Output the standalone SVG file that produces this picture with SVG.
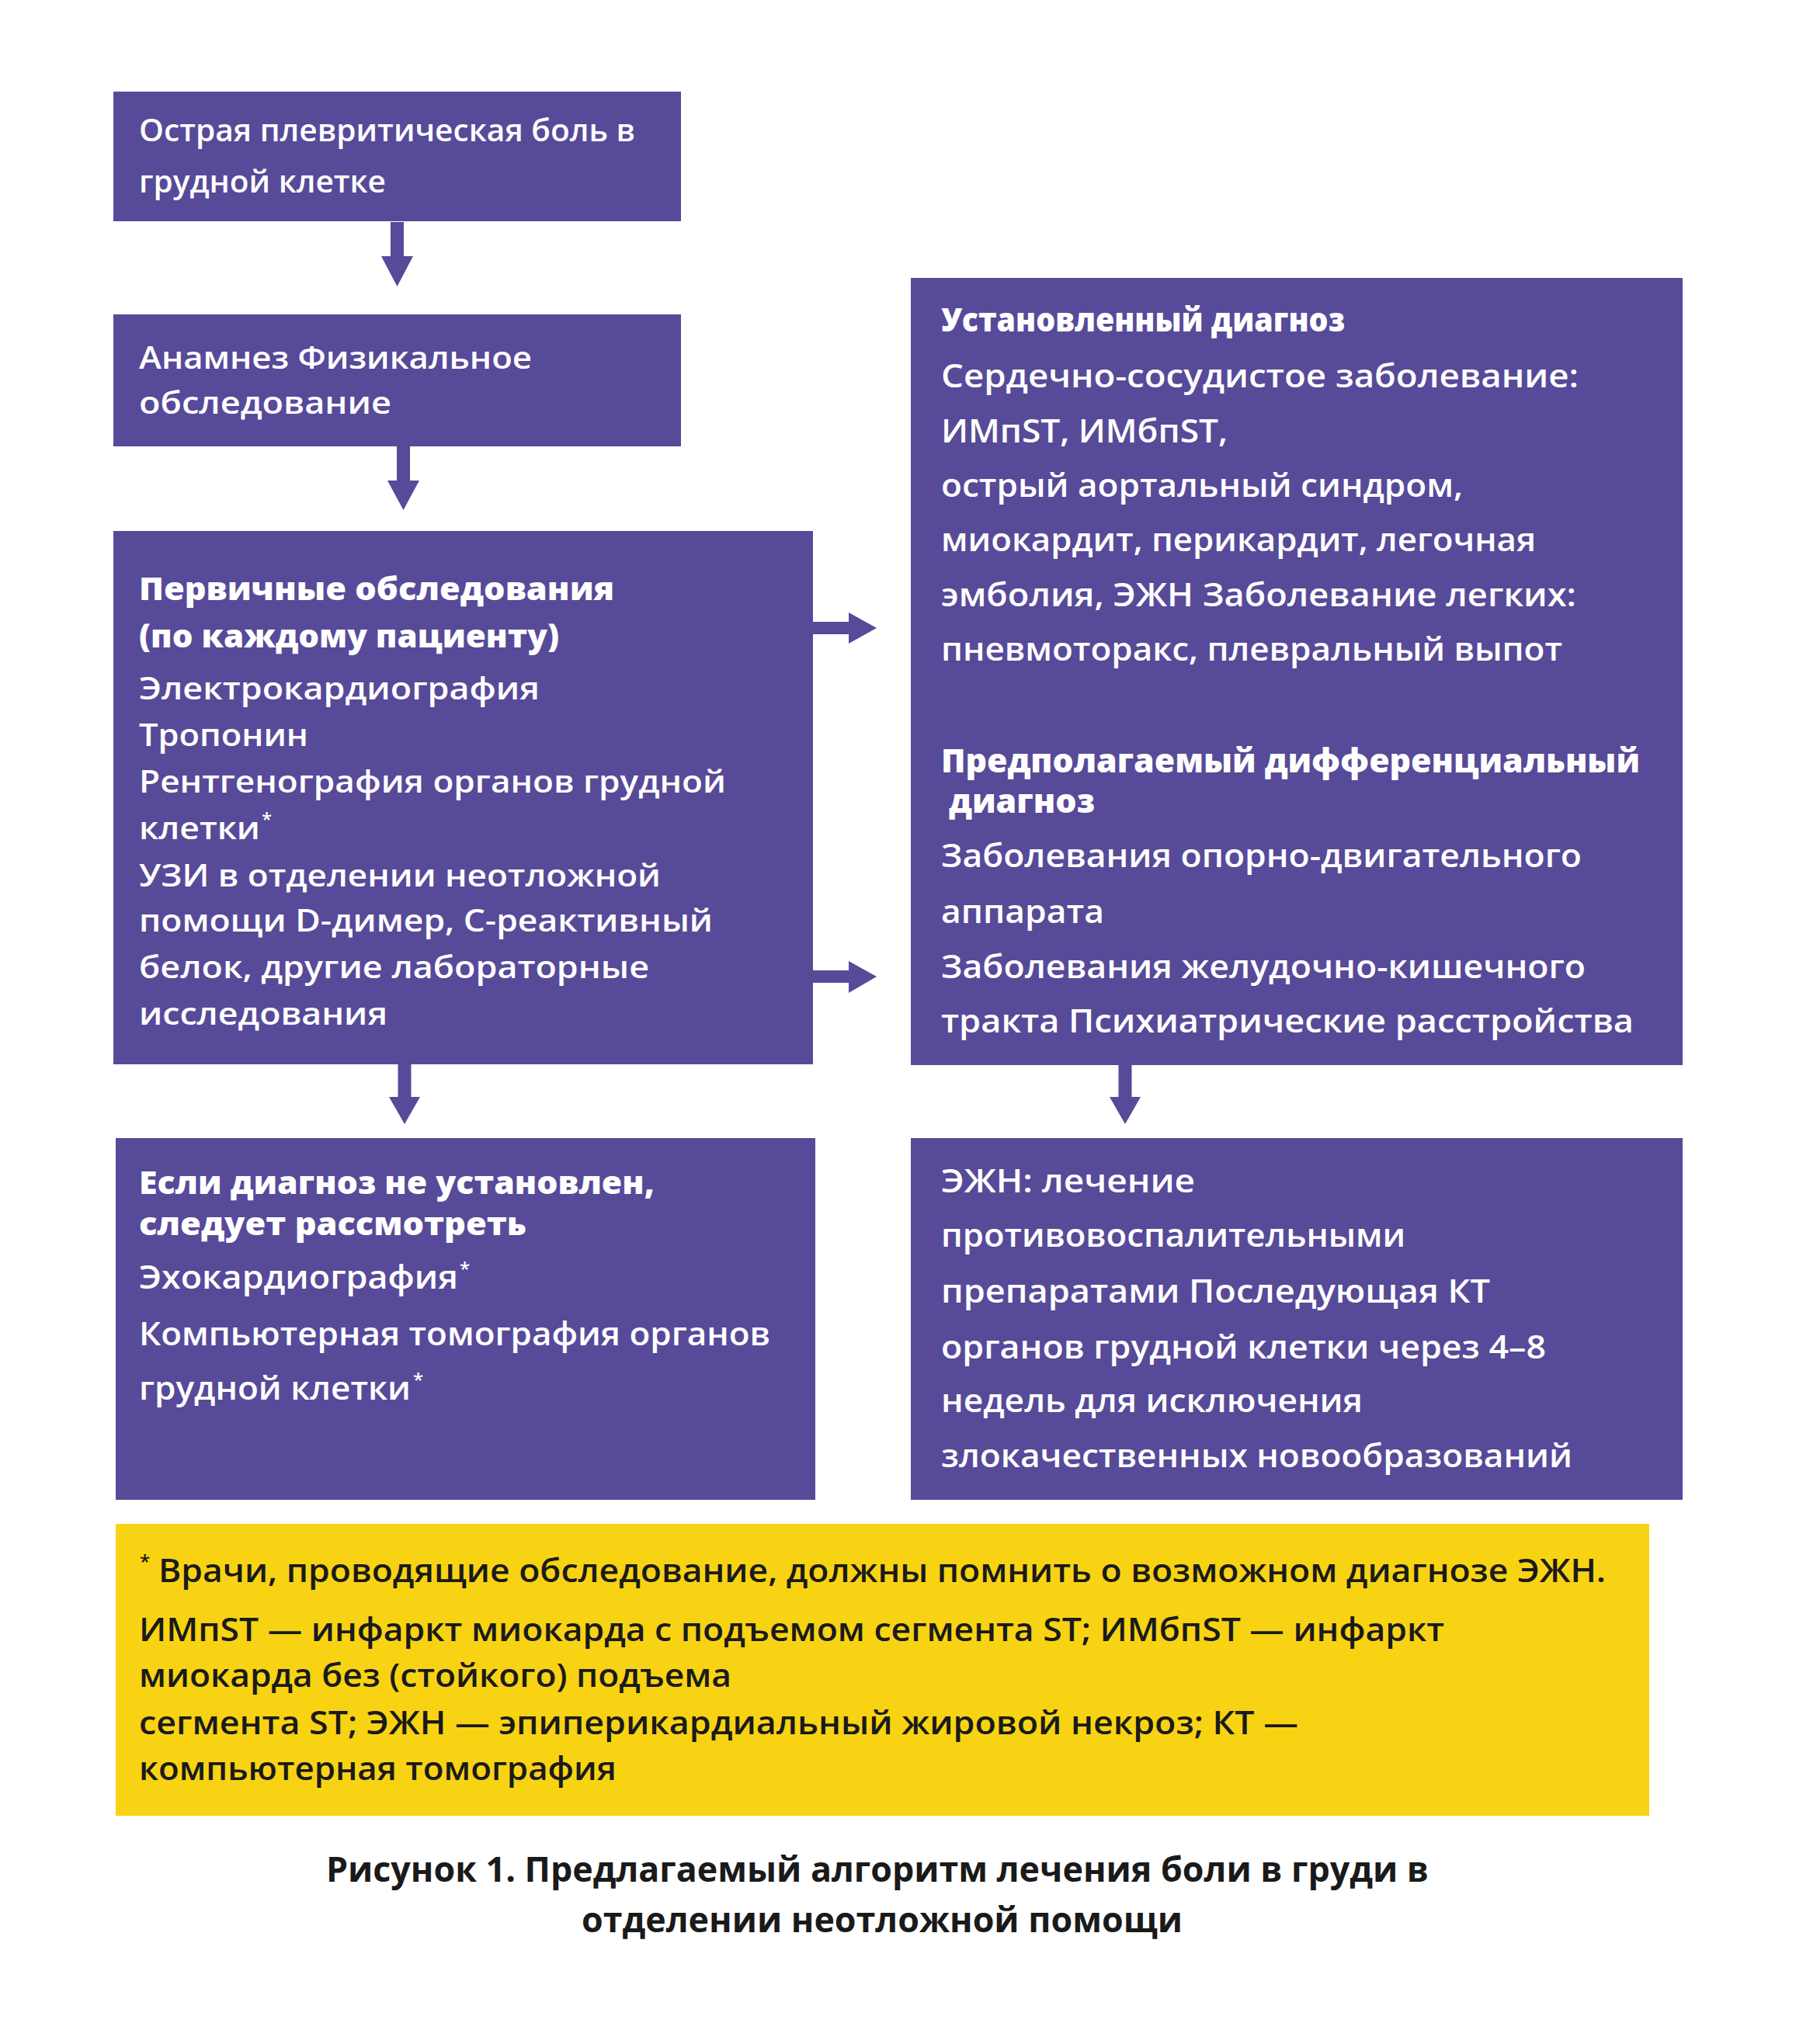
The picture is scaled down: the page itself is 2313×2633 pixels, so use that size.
<svg xmlns="http://www.w3.org/2000/svg" width="2313" height="2633" viewBox="0 0 2313 2633">
<style>
.box{fill:#574A99}
.note{fill:#F8D313}
text{font-family:"Open Sans","Liberation Sans",sans-serif}
.t{font-weight:600;fill:#ffffff}
.b{font-weight:800}
.k{fill:#1a1a1a}
.cap{font-weight:700;fill:#1a1a1a;text-anchor:middle;font-size:45px}
.arr{fill:#574A99}
.sup{font-size:24px;font-weight:600}
</style>
<rect width="2313" height="2633" fill="#ffffff"/>
<g id="connectors">
<path class="arr" d="M503,286H520V330H532L511.5,369L491,330H503Z"/>
<path class="arr" d="M511,575H528V619H540L519.5,657L499,619H511Z"/>
<path class="arr" d="M512.5,1371H529.5V1413H541L521,1448L501,1413H512.5Z"/>
<path class="arr" d="M1440.5,1372H1457.5V1413H1469L1449,1448L1429,1413H1440.5Z"/>
<path class="arr" d="M1047,801H1093V789L1129,809L1093,829V817H1047Z"/>
<path class="arr" d="M1047,1250H1093V1238L1129,1258L1093,1279V1266H1047Z"/>
</g>
<g id="node1">
<rect class="box" x="146" y="118" width="731" height="167"/>
<text class="t" font-size="40" lengthAdjust="spacingAndGlyphs"><tspan x="179" y="182" textLength="639" lengthAdjust="spacingAndGlyphs">Острая плевритическая боль в</tspan></text>
<text class="t" font-size="40"><tspan x="179" y="248" textLength="318" lengthAdjust="spacingAndGlyphs">грудной клетке</tspan></text>
</g>
<g id="node2">
<rect class="box" x="146" y="405" width="731" height="170"/>
<text class="t" font-size="40"><tspan x="179" y="475" textLength="506" lengthAdjust="spacingAndGlyphs">Анамнез Физикальное</tspan></text>
<text class="t" font-size="40"><tspan x="179" y="533" textLength="325" lengthAdjust="spacingAndGlyphs">обследование</tspan></text>
</g>
<g id="node3">
<rect class="box" x="146" y="684" width="901" height="687"/>
<text class="t b" font-size="40" x="179" y="773" textLength="612" lengthAdjust="spacingAndGlyphs">Первичные обследования</text>
<text class="t b" font-size="40" x="179" y="834" textLength="541" lengthAdjust="spacingAndGlyphs">(по каждому пациенту)</text>
<text class="t" font-size="40" x="179" y="901" textLength="516" lengthAdjust="spacingAndGlyphs">Электрокардиография</text>
<text class="t" font-size="40" x="179" y="961" textLength="218" lengthAdjust="spacingAndGlyphs">Тропонин</text>
<text class="t" font-size="40" x="179" y="1021" textLength="756" lengthAdjust="spacingAndGlyphs">Рентгенография органов грудной</text>
<text class="t" font-size="40" x="179" y="1081" textLength="156" lengthAdjust="spacingAndGlyphs">клетки</text>
<text class="t sup" x="337" y="1064">*</text>
<text class="t" font-size="40" x="179" y="1142" textLength="672" lengthAdjust="spacingAndGlyphs">УЗИ в отделении неотложной</text>
<text class="t" font-size="40" x="179" y="1200" textLength="739" lengthAdjust="spacingAndGlyphs">помощи D-димер, С-реактивный</text>
<text class="t" font-size="40" x="179" y="1260" textLength="657" lengthAdjust="spacingAndGlyphs">белок, другие лабораторные</text>
<text class="t" font-size="40" x="179" y="1320" textLength="320" lengthAdjust="spacingAndGlyphs">исследования</text>
</g>
<g id="node4">
<rect class="box" x="1173" y="358" width="994" height="1014"/>
<text class="t b" font-size="42" x="1212" y="427" textLength="520" lengthAdjust="spacingAndGlyphs">Установленный диагноз</text>
<text class="t" font-size="42" x="1212" y="499" textLength="821" lengthAdjust="spacingAndGlyphs">Сердечно-сосудистое заболевание:</text>
<text class="t" font-size="42" x="1212" y="570" textLength="369" lengthAdjust="spacingAndGlyphs">ИМпST, ИМбпST,</text>
<text class="t" font-size="42" x="1212" y="640" textLength="672" lengthAdjust="spacingAndGlyphs">острый аортальный синдром,</text>
<text class="t" font-size="42" x="1212" y="710" textLength="766" lengthAdjust="spacingAndGlyphs">миокардит, перикардит, легочная</text>
<text class="t" font-size="42" x="1212" y="781" textLength="818" lengthAdjust="spacingAndGlyphs">эмболия, ЭЖН Заболевание легких:</text>
<text class="t" font-size="42" x="1212" y="851" textLength="800" lengthAdjust="spacingAndGlyphs">пневмоторакс, плевральный выпот</text>
<text class="t b" font-size="42" x="1212" y="995" textLength="900" lengthAdjust="spacingAndGlyphs">Предполагаемый дифференциальный</text>
<text class="t b" font-size="42" x="1222" y="1047" textLength="188" lengthAdjust="spacingAndGlyphs">диагноз</text>
<text class="t" font-size="42" x="1212" y="1117" textLength="825" lengthAdjust="spacingAndGlyphs">Заболевания опорно-двигательного</text>
<text class="t" font-size="42" x="1212" y="1189" textLength="210" lengthAdjust="spacingAndGlyphs">аппарата</text>
<text class="t" font-size="42" x="1212" y="1260" textLength="830" lengthAdjust="spacingAndGlyphs">Заболевания желудочно-кишечного</text>
<text class="t" font-size="42" x="1212" y="1330" textLength="892" lengthAdjust="spacingAndGlyphs">тракта Психиатрические расстройства</text>
</g>
<g id="node5">
<rect class="box" x="149" y="1466" width="901" height="466"/>
<text class="t b" font-size="41" x="179" y="1538" textLength="664" lengthAdjust="spacingAndGlyphs">Если диагноз не установлен,</text>
<text class="t b" font-size="41" x="179" y="1591" textLength="499" lengthAdjust="spacingAndGlyphs">следует рассмотреть</text>
<text class="t" font-size="41" x="179" y="1660" textLength="411" lengthAdjust="spacingAndGlyphs">Эхокардиография</text>
<text class="t sup" x="592" y="1643">*</text>
<text class="t" font-size="41" x="179" y="1733" textLength="813" lengthAdjust="spacingAndGlyphs">Компьютерная томография органов</text>
<text class="t" font-size="41" x="179" y="1803" textLength="350" lengthAdjust="spacingAndGlyphs">грудной клетки</text>
<text class="t sup" x="532" y="1786">*</text>
</g>
<g id="node6">
<rect class="box" x="1173" y="1466" width="994" height="466"/>
<text class="t" font-size="42" x="1212" y="1536" textLength="327" lengthAdjust="spacingAndGlyphs">ЭЖН: лечение</text>
<text class="t" font-size="42" x="1212" y="1606" textLength="598" lengthAdjust="spacingAndGlyphs">противовоспалительными</text>
<text class="t" font-size="42" x="1212" y="1678" textLength="707" lengthAdjust="spacingAndGlyphs">препаратами Последующая КТ</text>
<text class="t" font-size="42" x="1212" y="1750" textLength="779" lengthAdjust="spacingAndGlyphs">органов грудной клетки через 4–8</text>
<text class="t" font-size="42" x="1212" y="1819" textLength="543" lengthAdjust="spacingAndGlyphs">недель для исключения</text>
<text class="t" font-size="42" x="1212" y="1890" textLength="813" lengthAdjust="spacingAndGlyphs">злокачественных новообразований</text>
</g>
<g id="note">
<rect class="note" x="149" y="1963" width="1975" height="376"/>
<text class="t k sup" x="180" y="2020">*</text>
<text class="t k" font-size="42" x="204" y="2038" textLength="1864" lengthAdjust="spacingAndGlyphs">Врачи, проводящие обследование, должны помнить о возможном диагнозе ЭЖН.</text>
<text class="t k" font-size="42" x="179" y="2114" textLength="1681" lengthAdjust="spacingAndGlyphs">ИМпST — инфаркт миокарда с подъемом сегмента ST; ИМбпST — инфаркт</text>
<text class="t k" font-size="42" x="179" y="2173" textLength="763" lengthAdjust="spacingAndGlyphs">миокарда без (стойкого) подъема</text>
<text class="t k" font-size="42" x="179" y="2234" textLength="1493" lengthAdjust="spacingAndGlyphs">сегмента ST; ЭЖН — эпиперикардиальный жировой некроз; КТ —</text>
<text class="t k" font-size="42" x="179" y="2293" textLength="615" lengthAdjust="spacingAndGlyphs">компьютерная томография</text>
</g>
<g id="caption">
<text class="cap" x="1130" y="2424" textLength="1420" lengthAdjust="spacingAndGlyphs">Рисунок 1. Предлагаемый алгоритм лечения боли в груди в</text>
<text class="cap" x="1136" y="2489" textLength="774" lengthAdjust="spacingAndGlyphs">отделении неотложной помощи</text>
</g>
</svg>
